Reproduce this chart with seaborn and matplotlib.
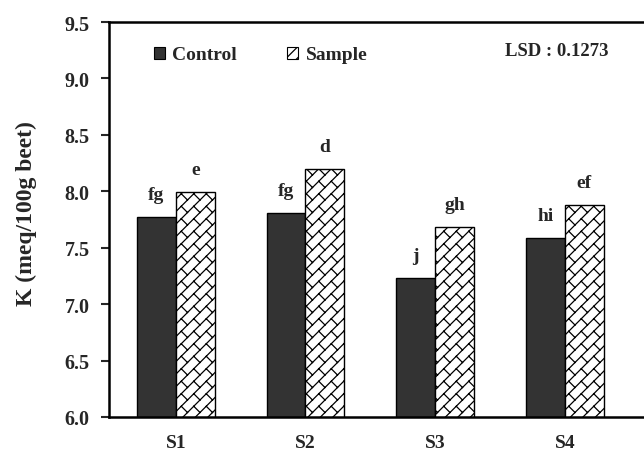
import numpy as np
import pandas as pd
import matplotlib
matplotlib.use("Agg")
import matplotlib.pyplot as plt
import matplotlib.hatch as mhatch
from matplotlib.path import Path
from matplotlib.patches import Patch
import seaborn as sns

# ---- data ----
sites = ["S1", "S2", "S3", "S4"]
control = [7.77, 7.81, 7.23, 7.59]
sample = [7.99, 8.20, 7.68, 7.88]
control_letters = ["fg", "fg", "j", "hi"]
sample_letters = ["e", "d", "gh", "ef"]
treatments = ["Control", "Sample"]
y_ticks = [6.0, 6.5, 7.0, 7.5, 8.0, 8.5, 9.0, 9.5]
lsd_text = "LSD : 0.1273"
y_label = "K (meq/100g beet)"

# ---- custom diagonal brick hatch ----
def _brick_path(m=8):
    r2 = np.sqrt(2.0)
    s = 1.0 / (r2 * m)
    L = 2 * s
    verts, codes = [], []
    for k in range(-2 * m, 2 * m + 1):
        c = k / m
        verts += [(-1.0, -1.0 + c), (2.0, 2.0 + c)]
        codes += [Path.MOVETO, Path.LINETO]
    for k in range(-3 * m, 3 * m):
        v0, v1 = k * s, (k + 1) * s
        off = (k % 2) * L / 2
        for j in range(-int(3 / L), int(3 / L) + 1):
            u = j * L + off
            x0, y0 = (u - v0) / r2, (u + v0) / r2
            x1, y1 = (u - v1) / r2, (u + v1) / r2
            if -0.5 < x0 < 1.5 and -0.5 < y0 < 1.5:
                verts += [(x0, y0), (x1, y1)]
                codes += [Path.MOVETO, Path.LINETO]
    return Path(np.array(verts), np.array(codes, dtype=Path.code_type))

_orig_get_path = mhatch.get_path
_BRICK = _brick_path()

def _get_path(hatchpattern, density=6):
    if hatchpattern == "O":
        return _BRICK
    return _orig_get_path(hatchpattern, density)

mhatch.get_path = _get_path

# ---- plotting ----
sns.set_theme(style="white")
plt.rcParams["font.family"] = ["Liberation Serif", "DejaVu Serif"]
plt.rcParams["font.weight"] = "bold"
plt.rcParams["hatch.linewidth"] = 0.9
plt.rcParams["hatch.color"] = "#222222"

df = pd.DataFrame({
    "site": sites * 2,
    "K": control + sample,
    "treat": [treatments[0]] * len(sites) + [treatments[1]] * len(sites),
})

W, H = 644, 456
fig = plt.figure(figsize=(W / 100, H / 100), dpi=100)
ax = fig.add_axes([109 / W, 1 - 418 / H, 1 - 109 / W + 0.01, (418 - 23) / H])

sns.barplot(data=df, x="site", y="K", hue="treat", hue_order=treatments,
            palette=["#333333", "white"], width=0.6, gap=0,
            edgecolor="black", linewidth=1.0, legend=False, ax=ax,
            errorbar=None, saturation=1)

for p in ax.containers[1]:
    p.set_hatch("O")
    p.set_facecolor("white")
    p.set_edgecolor("black")

for cont, letters in zip(ax.containers, [control_letters, sample_letters]):
    for p, lab in zip(cont, letters):
        ax.annotate(lab, (p.get_x() + p.get_width() / 2, p.get_height()),
                    xytext=(0, 13), textcoords="offset points",
                    ha="center", va="baseline", fontsize=14, fontweight="bold")

ax.set_ylim(6.0, 9.5)
ax.set_yticks(y_ticks)
ax.set_yticklabels([f"{t:.1f}" for t in y_ticks], fontsize=14.5, fontweight="bold")
ax.set_xlim(-0.515, 3.66)
ax.set_xticks(range(len(sites)))
ax.set_xticklabels(sites, fontsize=14, fontweight="bold")
ax.tick_params(axis="x", length=0, pad=12)
ax.tick_params(axis="y", direction="out", length=6, width=1.5, left=True, pad=8)
ax.set_xlabel("")
ax.set_ylabel("")
fig.text(26 / W, 1 - 214 / H, y_label, rotation=90, ha="center", va="center",
         fontsize=17, fontweight="bold")

for side in ["left", "bottom", "top"]:
    ax.spines[side].set_linewidth(1.8)
    ax.spines[side].set_color("black")
ax.spines["right"].set_visible(False)

handles = [Patch(facecolor="#333333", edgecolor="black", linewidth=0.8),
           Patch(facecolor="white", edgecolor="black", linewidth=0.8, hatch="///")]
leg = fig.legend(handles, treatments, loc="center left",
                 bbox_to_anchor=(154 / W, 1 - 56 / H), bbox_transform=fig.transFigure,
                 ncol=2, frameon=False, handlelength=0.57, handleheight=0.57,
                 handletextpad=0.36, columnspacing=2.6, borderpad=0, borderaxespad=0,
                 prop={"size": 14, "weight": "bold"})

fig.text(505 / W, 1 - 56 / H, lsd_text, fontsize=13.5, fontweight="bold",
         ha="left", va="baseline")

fig.savefig("out.png", dpi=100)
